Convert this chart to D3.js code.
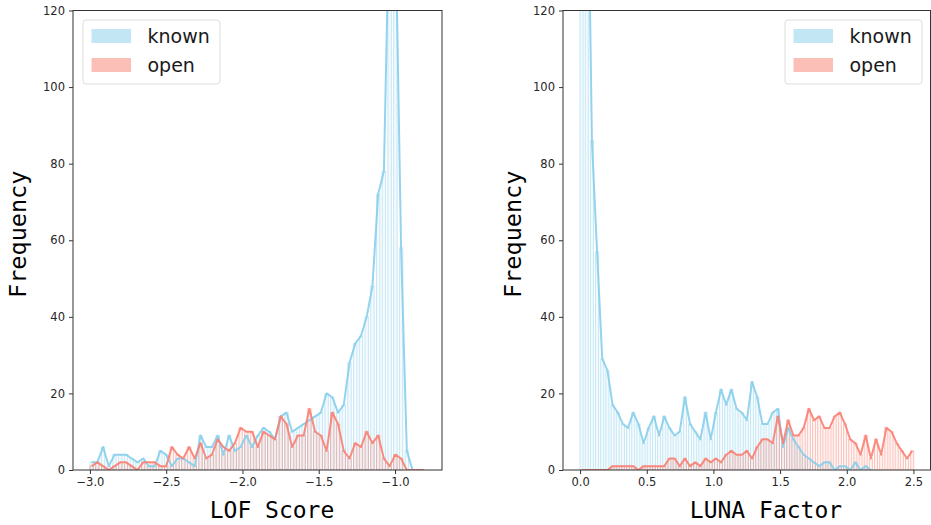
<!DOCTYPE html>
<html><head><meta charset="utf-8">
<script src="https://cdn.jsdelivr.net/npm/d3@7"></script>
<style>body{margin:0;background:#fff}svg{display:block}</style>
</head><body>
<script>
// ---------- DATA ----------
const seriesNames = ["known", "open"];
const yTicks = [0, 20, 40, 60, 80, 100, 120];

// LOF Score histograms (bin centers start + i*width)
const lofBinStart = -2.989, lofBinWidth = 0.03757;
const lofKnown = [2,2,6,1,4,4,4,3,2,3,1,1,5,4,1,3,3,2,1,9,6,6,9,4,9,5,6,9,6,9,11,10,8,14,15,10,11,12,13,14,15,20,19,15,17,28,33,35,40,48,72,78,150,145,58,5,0];
const lofOpen  = [1,2,1,0,1,2,2,1,0,2,2,2,1,1,6,4,3,6,3,7,3,4,8,6,5,7,11,10,10,6,10,9,8,14,12,6,9,9,16,10,9,5,15,12,5,3,7,6,10,7,9,3,1,4,3,0,0,0,0];
const lofTicks = [-3.0, -2.5, -2.0, -1.5, -1.0];

// LUNA Factor histograms
const lunaBinStart = 0.0113, lunaBinWidth = 0.03874;
const lunaKnown = [250,180,86,57,29,26,17,15,12,11,15,12,7,11,14,9,14,11,9,10,19,12,10,8,15,8,15,21,17,21,16,15,13,23,19,12,12,15,16,6,11,8,6,4,3,2,1,2,2,0,1,1,0,2,0,1,0];
const lunaOpen  = [0,0,0,0,0,0,1,1,1,1,1,0,1,1,1,1,1,3,3,1,3,1,2,1,3,2,3,2,4,5,4,4,5,3,6,8,8,7,14,7,13,9,9,11,16,13,14,11,11,14,15,12,8,7,4,9,3,8,4,11,10,7,5,3,5];
const lunaTicks = [0.0, 0.5, 1.0, 1.5, 2.0, 2.5];

// ---------- STYLE ----------
const W = 931, H = 525;
const colors = {known: "#87CEEB", open: "#FA8072"};
const svg = d3.select("body").append("svg").attr("width", W).attr("height", H);

const panels = [
  {id: "lof", xDomain: [-3.111, -0.692], xRange: [73, 442], start: lofBinStart, bw: lofBinWidth,
   data: {known: lofKnown, open: lofOpen}, ticks: lofTicks, xlabel: "LOF Score", xlabelX: 272,
   ylabelX: 18, legend: {x: 83}},
  {id: "luna", xDomain: [-0.128, 2.628], xRange: [563, 930.5], start: lunaBinStart, bw: lunaBinWidth,
   data: {known: lunaKnown, open: lunaOpen}, ticks: lunaTicks, xlabel: "LUNA Factor", xlabelX: 766,
   ylabelX: 513, legend: {x: 785}}
];

const yTop = 10.5, yBot = 470;

panels.forEach(p => {
  const x = d3.scaleLinear().domain(p.xDomain).range(p.xRange);
  const y = d3.scaleLinear().domain([0, 120]).range([yBot, yTop]);
  const g = svg.append("g");
  const clipId = "clip-" + p.id;
  svg.append("clipPath").attr("id", clipId).append("rect")
    .attr("x", p.xRange[0]).attr("y", yTop).attr("width", p.xRange[1] - p.xRange[0]).attr("height", yBot - yTop);
  const plot = g.append("g").attr("clip-path", `url(#${clipId})`);
  const bwPx = x(p.start + p.bw) - x(p.start);

  seriesNames.forEach(name => {
    const vals = p.data[name];
    const pts = vals.map((v, i) => ({x: p.start + i * p.bw, v}));
    plot.append("g").selectAll("rect").data(pts.filter(d => d.v > 0)).join("rect")
      .attr("x", d => x(d.x) - bwPx * 0.3)
      .attr("width", bwPx * 0.6)
      .attr("y", d => y(d.v))
      .attr("height", d => yBot - y(d.v))
      .attr("fill", colors[name]).attr("fill-opacity", 0.1)
      .attr("stroke", colors[name]).attr("stroke-opacity", 0.45).attr("stroke-width", 1);
  });
  seriesNames.forEach(name => {
    const vals = p.data[name];
    const pts = vals.map((v, i) => ({x: p.start + i * p.bw, v}));
    plot.append("path").datum(pts)
      .attr("d", d3.line().x(d => x(d.x)).y(d => y(d.v)))
      .attr("fill", "none").attr("stroke", colors[name]).attr("stroke-width", 2)
      .attr("stroke-opacity", 0.9).attr("stroke-linejoin", "round");
  });

  // axes
  const xAxis = d3.axisBottom(x).tickValues(p.ticks).tickFormat(d3.format(".1f")).tickSize(4).tickPadding(4);
  const yAxis = d3.axisLeft(y).tickValues(yTicks).tickSize(4).tickPadding(4);
  const gx = g.append("g").attr("transform", `translate(0,${yBot})`).call(xAxis);
  const gy = g.append("g").attr("transform", `translate(${p.xRange[0]},0)`).call(yAxis);
  [gx, gy].forEach(a => {
    a.select(".domain").remove();
    a.selectAll("line").attr("stroke", "#333");
    a.selectAll("text").attr("font-family", "DejaVu Sans").attr("font-size", 11.5).attr("fill", "#262626");
  });
  // frame
  g.append("rect").attr("x", p.xRange[0]).attr("y", yTop)
    .attr("width", p.xRange[1] - p.xRange[0]).attr("height", yBot - yTop)
    .attr("fill", "none").attr("stroke", "#333").attr("stroke-width", 1);

  // labels
  g.append("text").attr("x", p.xlabelX).attr("y", 518).attr("text-anchor", "middle")
    .attr("font-family", "DejaVu Sans Mono").attr("font-size", 23).attr("fill", "#000").text(p.xlabel);
  g.append("text").attr("transform", `translate(${p.ylabelX},${(yTop + yBot) / 2 - 6}) rotate(-90)`)
    .attr("dy", "0.35em").attr("text-anchor", "middle")
    .attr("font-family", "DejaVu Sans Mono").attr("font-size", 23.5).attr("fill", "#000").text("Frequency");

  // legend
  const lg = g.append("g").attr("transform", `translate(${p.legend.x},20)`);
  lg.append("rect").attr("width", 137).attr("height", 64).attr("rx", 3)
    .attr("fill", "#fff").attr("fill-opacity", 0.8).attr("stroke", "#ddd");
  seriesNames.forEach((name, i) => {
    lg.append("rect").attr("x", 8.5).attr("y", 9 + i * 29).attr("width", 39.5).attr("height", 14)
      .attr("fill", colors[name]).attr("fill-opacity", 0.5);
    lg.append("text").attr("x", 64.5).attr("y", 23 + i * 29)
      .attr("font-family", "DejaVu Sans").attr("font-size", 19).attr("fill", "#1a1a1a").text(name);
  });
});
</script>
</body></html>
